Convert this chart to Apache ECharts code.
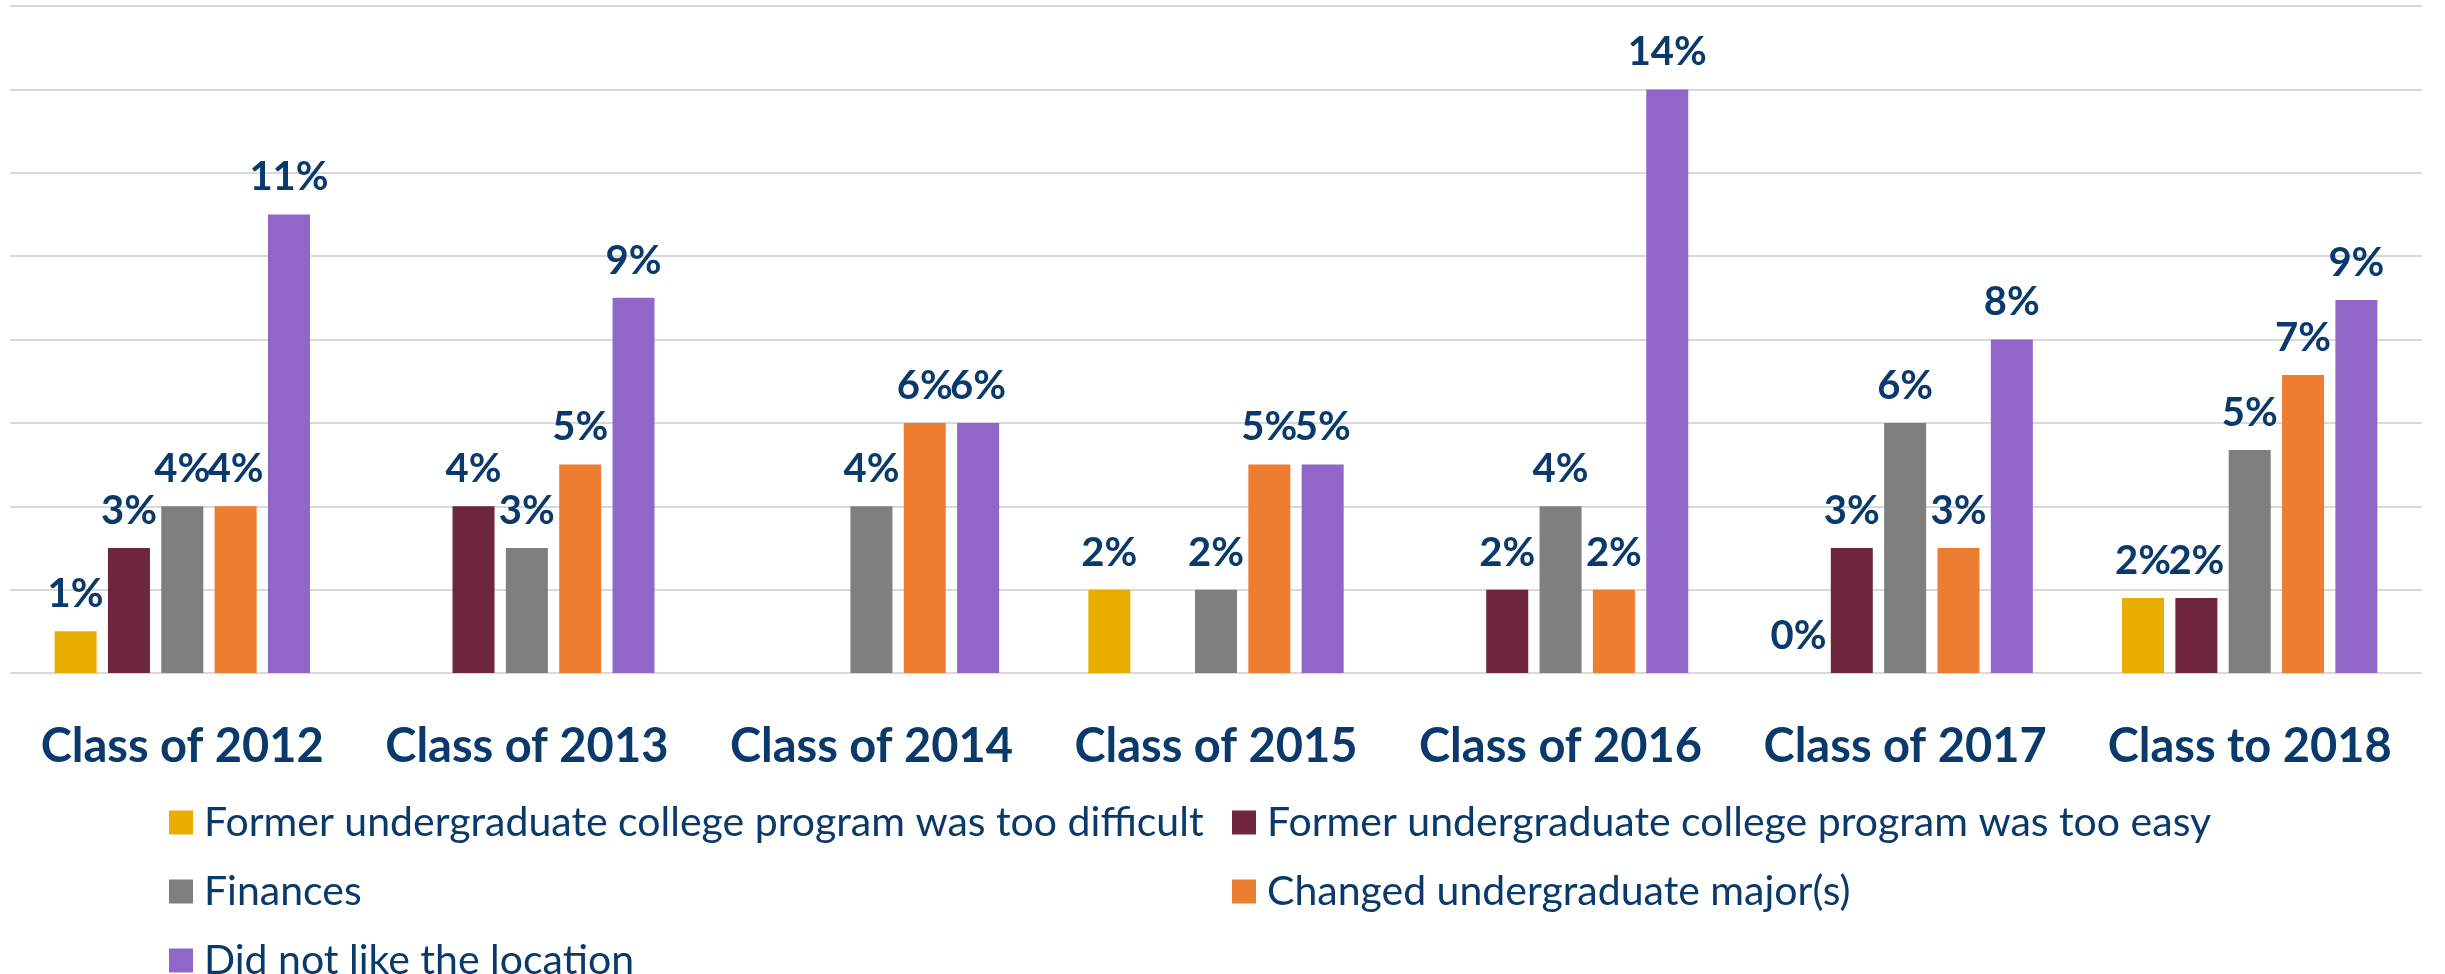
<!DOCTYPE html>
<html>
<head>
<meta charset="utf-8">
<script src="https://cdn.jsdelivr.net/npm/echarts@6/dist/echarts.min.js"></script>
<style>
html,body{margin:0;padding:0;background:#fff;}
#chart{width:2445px;height:974px;}
</style>
</head>
<body>
<div id="chart"></div>
<script>
const categories = ['Class of 2012','Class of 2013','Class of 2014','Class of 2015','Class of 2016','Class of 2017','Class to 2018'];
const seriesNames = [
  'Former undergraduate college program was too difficult',
  'Former undergraduate college program was too easy',
  'Finances',
  'Changed undergraduate major(s)',
  'Did not like the location'
];
const tooDifficult = [1, null, null, 2, null, 0, 1.8];
const tooEasy      = [3, 4, null, null, 2, 3, 1.8];
const finances     = [4, 3, 4, 2, 4, 6, 5.35];
const changedMajor = [4, 5, 6, 5, 2, 3, 7.15];
const location_    = [11, 9, 6, 5, 14, 8, 8.95];

const colors = ['#E9AD00', '#6D263C', '#7F7F7F', '#ED7D31', '#9067C9'];
const navy = '#0A3A6B';
const font = 'Lato, "Open Sans", sans-serif';

const allData = [tooDifficult, tooEasy, finances, changedMajor, location_];

const series = allData.map((d, i) => ({
  name: seriesNames[i],
  type: 'bar',
  data: d,
  barWidth: 42,
  barGap: '27%',
  itemStyle: { color: colors[i] },
  label: {
    show: true,
    position: 'top',
    distance: 17,
    color: navy,
    fontFamily: font,
    fontWeight: 'bold',
    fontSize: 40,
    formatter: p => (p.value == null ? '' : Math.round(p.value) + '%')
  }
}));

const legendCommon = {
  orient: 'vertical',
  icon: 'rect',
  itemWidth: 24,
  itemHeight: 24,
  itemGap: 28,
  padding: 0,
  height: 200,
  textStyle: { color: navy, fontFamily: font, fontSize: 41, lineHeight: 30, padding: [0, 0, 0, 6] }
};

const chart = echarts.init(document.getElementById('chart'));
chart.setOption({
  animation: false,
  color: colors,
  grid: { left: 10, right: 23, top: 6, bottom: 301, containLabel: false },
  legend: [
    Object.assign({}, legendCommon, { left: 169, top: 802, data: [seriesNames[0], seriesNames[2], seriesNames[4]] }),
    Object.assign({}, legendCommon, { left: 1232, top: 802, data: [seriesNames[1], seriesNames[3]] })
  ],
  xAxis: {
    type: 'category',
    data: categories,
    axisLine: { show: false },
    axisTick: { show: false },
    axisLabel: { interval: 0, color: navy, fontFamily: font, fontWeight: 'bold', fontSize: 47, margin: 50 }
  },
  yAxis: {
    type: 'value',
    min: 0,
    max: 16,
    interval: 2,
    axisLabel: { show: false },
    axisLine: { show: false },
    axisTick: { show: false },
    splitLine: { show: true, lineStyle: { color: '#D9D9D9', width: 2 } }
  },
  series: series
});
</script>
</body>
</html>
